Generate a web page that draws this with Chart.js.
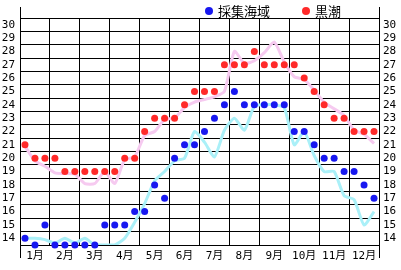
<!DOCTYPE html>
<html><head><meta charset="utf-8">
<script src="https://cdn.jsdelivr.net/npm/chart.js@4"></script>
<style>html,body{margin:0;padding:0;background:#fff}#wrap{width:401px;height:270px}</style>
</head><body><div id="wrap"><canvas id="c" width="401" height="270"></canvas></div>
<script>
// ---- data ----
const months = ['1月','2月','3月','4月','5月','6月','7月','8月','9月','10月','11月','12月'];
const yTickValues = [14,15,16,17,18,19,20,21,22,23,24,25,26,27,28,29,30];
const seriesNames = ['採集海域', '黒潮'];
// 10-day (旬) values, 3 per month
const samplingDots = [14,13.5,15, 13.5,13.5,13.5, 13.5,13.5,15, 15,15,16,
                      16,18,17, 20,21,21, 22,23,24, 25,24,24,
                      24,24,24, 22,22,21, 20,20,19, 19,18,17];
const kuroshioDots = [21,20,20, 20,19,19, 19,19,19, 19,20,20,
                      22,23,23, 23,24,25, 25,25,27, 27,27,28,
                      27,27,27, 27,26,25, 24,23,23, 22,22,22];
const samplingAvg  = [14.0,14.0,13.9, 13.65,14.0,13.65, 14.0,13.5,13.5, 13.5,14.0,15.2,
                      16.6,18.3,19.0, 19.8,20.0,22.0, 21.2,20.1,22.1, 23.0,22.1,23.9,
                      24.0,24.0,23.8, 21.0,22.0,20.2, 19.0,19.0,17.2, 16.9,15.0,16.0];
const kuroshioAvg  = [20.9,19.8,19.4, 18.9,18.85,18.8, 18.1,18.1,19.0, 18.1,19.9,20.1,
                      21.7,22.0,22.9, 23.0,23.8,24.2, 24.4,24.6,25.0, 28.0,27.1,27.3,
                      27.9,28.7,27.2, 26.1,25.9,25.1, 24.2,23.7,23.2, 22.1,21.8,21.1];

const toPts = arr => arr.map((v, i) => ({x: (i + 0.5) / 3, y: v}));

const tickFont = {family: '"DejaVu Sans Mono", "Noto Sans CJK JP", monospace', size: 11};

function yTicksBuild(scale) {
  const t = [];
  for (let v = 13.5; v <= 30.5; v += 0.5) t.push({value: v});
  scale.ticks = t;
}
function xTicksBuild(scale) {
  const t = [];
  for (let v = 0; v <= 12; v += 0.5) t.push({value: v});
  scale.ticks = t;
}

const frameExt = {
  id: 'frameExt',
  afterDraw(chart) {
    const {ctx, chartArea: a} = chart;
    ctx.save();
    ctx.strokeStyle = '#000';
    ctx.lineWidth = 1;
    ctx.beginPath();
    for (const x of [a.left, a.right]) {
      const px = Math.round(x - 0.5) + 0.5;
      ctx.moveTo(px, a.top - 11);
      ctx.lineTo(px, a.bottom + 13);
    }
    ctx.stroke();
    ctx.restore();
  }
};

const legendPlugin = {
  id: 'dotLegend',
  afterDraw(chart) {
    const ctx = chart.ctx;
    ctx.save();
    ctx.font = '13px "Noto Sans CJK JP", sans-serif';
    ctx.textBaseline = 'middle';
    ctx.textAlign = 'left';
    let x = 209;
    const y = 11;
    [0, 1].forEach(i => {
      const ds = chart.data.datasets[i];
      ctx.fillStyle = ds.backgroundColor;
      ctx.beginPath();
      ctx.arc(x, y, 4, 0, Math.PI * 2);
      ctx.fill();
      ctx.fillStyle = '#000';
      ctx.fillText(ds.label, x + 9, y);
      x += 9 + ctx.measureText(ds.label).width + 36;
    });
    ctx.restore();
  }
};

new Chart(document.getElementById('c'), {
  type: 'scatter',
  data: {
    datasets: [
      {label: seriesNames[0], data: toPts(samplingDots), backgroundColor: '#1818f0', borderWidth: 0,
       pointRadius: 3.5, showLine: false, order: 1, clip: false},
      {label: seriesNames[1], data: toPts(kuroshioDots), backgroundColor: '#ff2a2a', borderWidth: 0,
       pointRadius: 3.5, showLine: false, order: 1, clip: false},
      {label: seriesNames[0] + '平均', data: toPts(samplingAvg), borderColor: '#aaf0f8', borderWidth: 3,
       pointRadius: 0, showLine: true, tension: 0.2, order: 2},
      {label: seriesNames[1] + '平均', data: toPts(kuroshioAvg), borderColor: '#f6caf0', borderWidth: 3,
       pointRadius: 0, showLine: true, tension: 0.2, order: 2}
    ]
  },
  options: {
    responsive: false,
    animation: false,
    layout: {padding: {top: 18, left: 0, right: 0, bottom: 0}},
    plugins: {legend: {display: false}, tooltip: {enabled: false}},
    scales: {
      x: {
        type: 'linear', min: 0, max: 12,
        afterBuildTicks: xTicksBuild,
        afterFit: s => { s.height = 25; },
        grid: {color: c => Number.isInteger(c.tick.value) ? '#000' : 'rgba(0,0,0,0)', drawTicks: false, lineWidth: 1},
        border: {display: true, color: '#000'},
        ticks: {autoSkip: false, maxRotation: 0, padding: 5, color: '#000', font: tickFont,
                callback: v => Number.isInteger(v) ? '' : months[Math.floor(v)]}
      },
      y: {
        type: 'linear', position: 'left', min: 13.5, max: 30.5,
        afterBuildTicks: yTicksBuild,
        afterFit: s => { s.width = 20; },
        grid: {color: c => Number.isInteger(c.tick.value) ? 'rgba(0,0,0,0)' : '#000', drawTicks: false, lineWidth: 1},
        border: {display: true, color: '#000'},
        ticks: {autoSkip: false, padding: 5, color: '#000', font: tickFont,
                callback: v => yTickValues.includes(v) ? String(v) : ''}
      },
      y2: {
        type: 'linear', position: 'right', min: 13.5, max: 30.5,
        afterBuildTicks: yTicksBuild,
        afterFit: s => { s.width = 22; },
        grid: {drawOnChartArea: false, drawTicks: false},
        border: {display: true, color: '#000'},
        ticks: {autoSkip: false, padding: 4, color: '#000', font: tickFont,
                callback: v => yTickValues.includes(v) ? String(v) : ''}
      }
    }
  },
  plugins: [frameExt, legendPlugin]
});
</script>
</body></html>
